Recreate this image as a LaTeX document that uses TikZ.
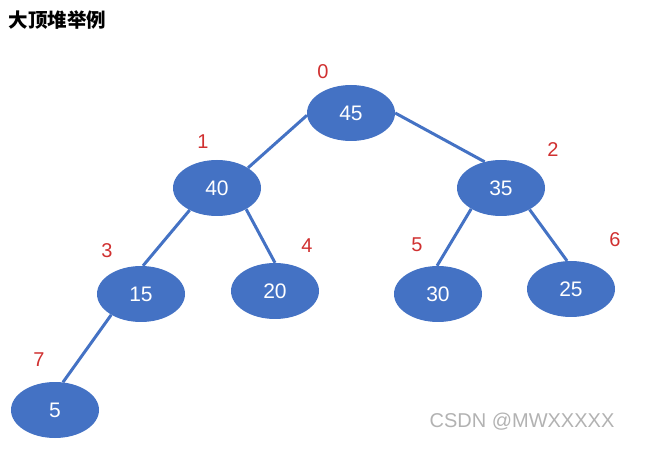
\documentclass[tikz,border=0pt]{standalone}
\usepackage{fontspec}
\setmainfont{Liberation Sans}
\newfontfamily\cjk{Noto Sans CJK SC}
\usetikzlibrary{shapes.geometric, positioning}
\definecolor{heapblue}{HTML}{4472C4}
\definecolor{idxred}{HTML}{D03030}

\begin{document}
\begin{tikzpicture}[
    x=1pt, y=-1pt,
    heapnode/.style={ellipse, fill=heapblue, text=white, minimum width=88pt, minimum height=56pt, inner sep=0pt, font=\fontsize{21}{21}\selectfont},
    idx/.style={text=idxred, font=\fontsize{20}{20}\selectfont},
    edge/.style={draw=heapblue, line width=3pt}
]
    \useasboundingbox (0,0) rectangle (657,468);
    \node[anchor=west, font=\cjk\bfseries\fontsize{19.5}{19.5}\selectfont] (title) at (5,20) {大顶堆举例};

    % heap nodes
    \node[heapnode] (n0) at (351,113) {45};
    \node[heapnode] (n1) at (217,188) {40};
    \node[heapnode] (n2) at (501,188) {35};
    \node[heapnode] (n3) at (141,294) {15};
    \node[heapnode] (n4) at (275,291) {20};
    \node[heapnode] (n5) at (438,294) {30};
    \node[heapnode] (n6) at (571,289) {25};
    \node[heapnode] (n7) at (55,410) {5};

    % array indices
    \node[idx] (i0) at (323,72) {0};
    \node[idx] (i1) at (203,142) {1};
    \node[idx] (i2) at (553,150) {2};
    \node[idx] (i3) at (107,251) {3};
    \node[idx] (i4) at (307,246) {4};
    \node[idx] (i5) at (417,245) {5};
    \node[idx] (i6) at (615,240) {6};
    \node[idx] (i7) at (39,360) {7};

    \draw[edge] (n0.183) -- (n1.33);
    \draw[edge] (n0.0) -- (n2.122);
    \draw[edge] (n1.219) -- (n3.86);
    \draw[edge] (n1.324) -- (n4.90);
    \draw[edge] (n2.215) -- (n5.92);
    \draw[edge] (n2.323) -- (n6.98);
    \draw[edge] (n3.215) -- (n7.74);

    \node[text=black!30, font=\fontsize{20}{20}\selectfont] (mark) at (522,422) {CSDN @MWXXXXX};
\end{tikzpicture}
\end{document}
